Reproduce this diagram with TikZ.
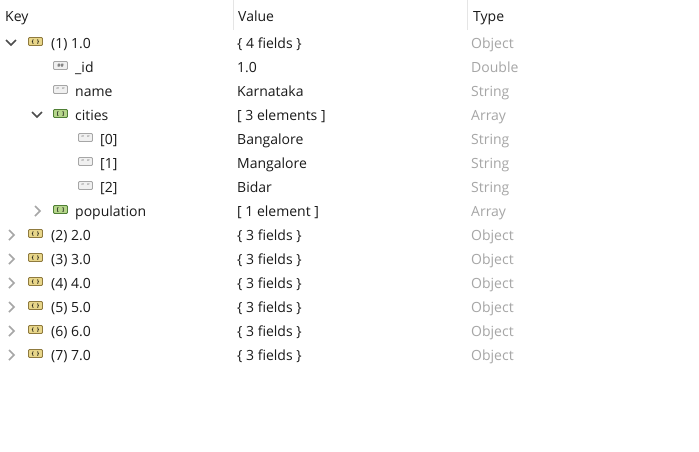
\documentclass[tikz,border=0pt]{standalone}
\usepackage{fontspec}
\setmainfont{Open Sans}
\definecolor{headline}{HTML}{E5E5E5}
\definecolor{typegray}{HTML}{A6A6A6}
\definecolor{keytext}{HTML}{1A1A1A}
\definecolor{objfill}{HTML}{E8D68A}
\definecolor{objline}{HTML}{8F7A3E}
\definecolor{arrfill}{HTML}{B5D58A}
\definecolor{arrline}{HTML}{4F7F35}
\begin{document}
\begin{tikzpicture}[
            x=1pt, y=-1pt,
            txt/.style={anchor=base west, inner sep=0pt, text=keytext, yshift=-5pt, font=\fontsize{14}{16}\selectfont},
            typetxt/.style={txt, text=typegray},
            icon/.style={draw, rounded corners=1pt, minimum width=14pt, minimum height=8pt, text height=4pt, text depth=1pt, inner sep=0pt, line width=0.8pt, font=\fontsize{5}{6}\bfseries\selectfont},
            objicon/.style={icon, draw=objline, fill=objfill},
            arricon/.style={icon, draw=arrline, fill=arrfill},
            valicon/.style={icon, draw=black!35, fill=black!6, text=black!60}
        ]
            \tikzset{
                openmark/.style={draw=black!70, line width=1.7pt},
                closedmark/.style={draw=black!35, line width=1.7pt}
            }
            \useasboundingbox (0, 0) rectangle (699, 451);
            \fill[white] (0, 0) rectangle (699, 451);
            % header
            \draw[headline] (233.5, 0)--(233.5, 30);
            \draw[headline] (467.5, 0)--(467.5, 30);
            \node[txt] (keyhead) at (5, 16) {Key};
            \node[txt] (valuehead) at (238, 16) {Value};
            \node[txt] (typehead) at (473, 16) {Type};
            % first document
            \draw[openmark] (6, 40)--(11, 45)--(16, 40);
            \node[objicon] (doc1) at (35.5, 41.5) {\{\hspace{3.5pt}\}};
            \node[txt] (key1) at (51, 43) {(1) 1.0};
            \node[txt] (val1) at (237, 43) {\{ 4 fields \}};
            \node[typetxt] (type1) at (471, 43) {Object};
            \node[valicon] (idicon) at (60.5, 65.5) {\#\#};
            \node[txt] (idkey) at (75, 67) {\_id};
            \node[txt] (idval) at (237, 67) {1.0};
            \node[typetxt] (idtype) at (471, 67) {Double};
            \node[valicon] (nameicon) at (60.5, 89.5) {"\hspace{3.5pt}"};
            \node[txt] (namekey) at (75, 91) {name};
            \node[txt] (nameval) at (237, 91) {Karnataka};
            \node[typetxt] (nametype) at (471, 91) {String};
            \draw[openmark] (32, 112)--(37, 117)--(42, 112);
            \node[arricon] (citiesicon) at (60.5, 113.5) {[\hspace{3.5pt}]};
            \node[txt] (citieskey) at (75, 115) {cities};
            \node[txt] (citiesval) at (237, 115) {[ 3 elements ]};
            \node[typetxt] (citiestype) at (471, 115) {Array};
            \foreach \i/\y/\city in {0/139/Bangalore, 1/163/Mangalore, 2/187/Bidar} {
                \node[valicon] (cityicon\i) at (85.5, \y-1.5) {"\hspace{3.5pt}"};
                \node[txt] (citykey\i) at (100, \y) {[\i]};
                \node[txt] (cityval\i) at (237, \y) {\city};
                \node[typetxt] (citytype\i) at (471, \y) {String};
            }
            \draw[closedmark] (35, 206)--(40, 211)--(35, 216);
            \node[arricon] (popicon) at (60.5, 209.5) {[\hspace{3.5pt}]};
            \node[txt] (popkey) at (75, 211) {population};
            \node[txt] (popval) at (237, 211) {[ 1 element ]};
            \node[typetxt] (poptype) at (471, 211) {Array};
            % other documents
            \foreach \n/\y in {2/235, 3/259, 4/283, 5/307, 6/331, 7/355} {
                \draw[closedmark] (9, \y-5)--(14, \y)--(9, \y+5);
                \node[objicon] (doc\n) at (35.5, \y-1.5) {\{\hspace{3.5pt}\}};
                \node[txt] (key\n) at (51, \y) {(\n) \n.0};
                \node[txt] (val\n) at (237, \y) {\{ 3 fields \}};
                \node[typetxt] (type\n) at (471, \y) {Object};
            }
        \end{tikzpicture}
\end{document}
